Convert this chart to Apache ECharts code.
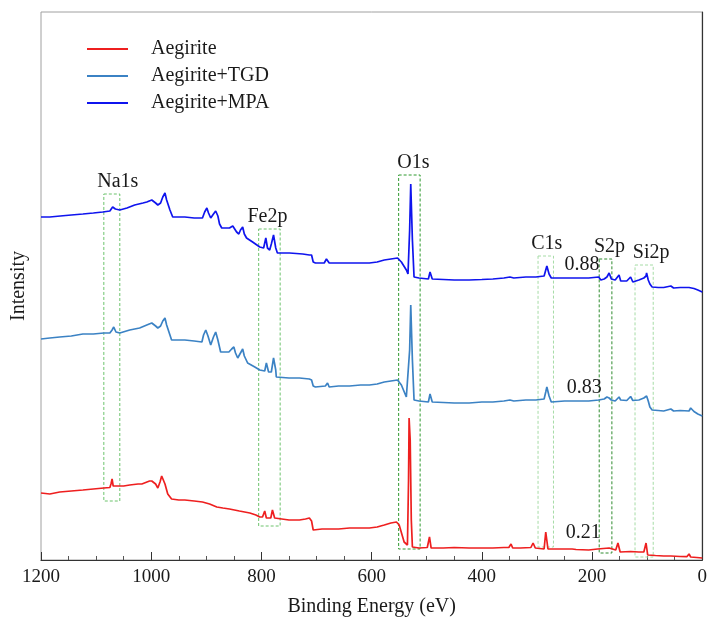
<!DOCTYPE html>
<html>
<head>
<meta charset="utf-8">
<script src="https://cdn.jsdelivr.net/npm/echarts@6/dist/echarts.min.js"></script>
<style>
  html, body { margin: 0; padding: 0; background: #fff; }
  #chart { width: 710px; height: 623px; }
</style>
</head>
<body>
<div id="chart"></div>
<script>
// binding energy (eV) / intensity (a.u., offset per curve)
var seriesNames = ['Aegirite', 'Aegirite+TGD', 'Aegirite+MPA']

var aegiriteData = [
  [1200, 67], [1184, 66], [1166, 68], [1145, 69], [1124, 70], [1105, 71], [1086, 72], [1075, 72.5],
  [1073, 76], [1071, 81], [1069, 74], [1066, 73], [1050, 74], [1039, 75], [1024, 76], [1021, 78],
  [1017, 76], [1003, 79], [999, 79], [992, 76], [988, 72], [984, 78], [981, 84], [979, 86],
  [975, 76], [970, 66], [963, 61], [950, 60], [939, 60], [922, 59], [907, 58], [894, 56],
  [881, 53], [870, 52], [858, 51], [840, 49], [821, 47], [810, 45], [803, 43], [798, 43],
  [794, 49], [791, 42], [783, 42], [780, 50], [776, 42], [773, 40], [750, 40], [731, 40],
  [720, 41], [713, 42], [709, 39], [706, 30], [690, 31], [677, 31], [660, 31], [640, 32],
  [620, 32], [604, 32], [590, 33], [577, 35], [565, 37], [555, 38], [550, 35], [541, 18],
  [535, 15], [533, 80], [532, 142], [530, 120], [528, 40], [526, 13], [514, 12], [499, 12.5],
  [495, 23], [492, 12], [470, 12], [450, 12.5], [423, 12], [400, 12], [380, 12], [360, 12.5],
  [351, 12.5], [347, 16], [344, 12], [330, 12], [311, 12.5], [307, 17], [303, 12], [287, 11],
  [284, 28], [280, 11], [260, 11], [236, 11], [233, 13], [229, 10.5], [206, 10], [190, 11],
  [169, 12], [157, 10], [153, 17], [149, 8], [130, 8.5], [115, 8], [106, 8], [102, 17],
  [99, 5], [85, 4.5], [70, 4], [57, 4], [40, 3.5], [28, 3.3], [24, 6], [21, 3],
  [10, 2.5], [0, 2]
]

var tgdData = [
  [1200, 221], [1184, 222], [1166, 223], [1145, 224], [1124, 226], [1105, 226], [1086, 227], [1075, 227],
  [1071, 230], [1068, 233], [1064, 228], [1057, 227], [1039, 230], [1021, 232], [1008, 235], [999, 237],
  [992, 234], [988, 232], [983, 234], [979, 239], [975, 242], [972, 235], [966, 225], [963, 220],
  [950, 220], [939, 220], [922, 219], [908, 218], [905, 225], [901, 230], [897, 224], [892, 215],
  [887, 223], [883, 228], [879, 220], [874, 208], [866, 208], [859, 208], [854, 211], [850, 213],
  [847, 207], [843, 202], [838, 207], [834, 211], [831, 204], [825, 197], [812, 193], [803, 190],
  [794, 189], [791, 197], [787, 188], [782, 188], [778, 202], [774, 190], [773, 183], [750, 182],
  [731, 182], [713, 181], [709, 180], [706, 174], [702, 173], [684, 174], [680, 177], [677, 173],
  [660, 174], [640, 174], [620, 175], [604, 175], [590, 176], [577, 178], [565, 179], [553, 180],
  [546, 175], [537, 163], [534, 161], [531, 210], [529, 255], [526, 200], [523, 160], [514, 159],
  [497, 158], [494, 166], [490, 158], [470, 157.5], [450, 157], [423, 157], [400, 158], [380, 158],
  [360, 159], [349, 160], [346, 162], [342, 159], [320, 160], [302, 160], [287, 161], [284, 168],
  [282, 173], [278, 164], [274, 158], [250, 159], [230, 159], [206, 159], [188, 160], [178, 161],
  [173, 163], [169, 162], [165, 160], [158, 159], [151, 163], [148, 160], [137, 159.5], [130, 163.5],
  [126, 159.5], [115, 160], [106, 162], [101, 164], [98, 159], [95, 153], [91, 150], [80, 149.5],
  [70, 149], [57, 151], [52, 149], [40, 149.5], [24, 149], [21, 152], [15, 148.5], [8, 146],
  [0, 144]
]

var mpaData = [
  [1200, 343], [1184, 343], [1165, 344], [1145, 345], [1124, 346], [1105, 347], [1088, 348], [1075, 349],
  [1070, 353], [1068, 355], [1065, 351], [1057, 350], [1044, 352], [1030, 355], [1015, 357], [1008, 358],
  [999, 360], [992, 357], [988, 355], [983, 357], [979, 363], [975, 367], [972, 360], [966, 350],
  [961, 343], [950, 343], [939, 343], [922, 342], [907, 342], [903, 348], [899, 352], [896, 347],
  [892, 342], [887, 346], [883, 349], [879, 344], [876, 336], [872, 332], [865, 332], [858, 332],
  [852, 334], [849, 335], [845, 328], [841, 326], [838, 330], [834, 333], [831, 326], [827, 322],
  [816, 318], [803, 313], [796, 312], [792, 322], [789, 312], [785, 310], [782, 316], [778, 325],
  [774, 312], [771, 307], [749, 307], [725, 306], [713, 305], [709, 305], [706, 298], [702, 297],
  [686, 297], [682, 301], [677, 297], [660, 297], [640, 297], [620, 297], [604, 297], [590, 298],
  [577, 300], [565, 301], [553, 302], [546, 298], [537, 290], [534, 286], [531, 330], [529, 376],
  [526, 320], [523, 283], [514, 282], [497, 281], [494, 288], [490, 281], [470, 280.5], [450, 280],
  [423, 280], [400, 280.5], [380, 281], [360, 282], [349, 283], [346, 284], [342, 282], [320, 283],
  [302, 283], [287, 284], [284, 290], [282, 294], [278, 286], [274, 282], [250, 282], [230, 282],
  [206, 282], [188, 283], [184, 280], [178, 281], [173, 283], [169, 287], [165, 281], [158, 280],
  [151, 285], [148, 279], [137, 279], [130, 283], [126, 278], [115, 280], [106, 282], [102, 284],
  [101, 287], [98, 280], [95, 276], [91, 273], [80, 272.5], [70, 272.5], [57, 274], [52, 272],
  [40, 272.5], [24, 272.5], [21, 274], [15, 271.5], [8, 270], [0, 268]
]

// peak windows: [label, high BE, low BE, top, bottom]
var peakBoxes = [
  ['Na1s', 1086, 1057, 366, 59],
  ['Fe2p', 805, 766, 331, 34],
  ['O1s', 551, 512, 385, 11],
  ['C1s', 298, 270, 304, 13],
  ['S2p', 187, 164, 301, 7],
  ['Si2p', 122, 89, 295, 3]
]
var boxColors = ['#6cc36c', '#6cc36c', '#2f9a2f', '#a6dca6', '#2e8b2e', '#a6dca6']
var labelShift = [6, -2, 4, 1, 4, 7]

// ratio labels: [text, BE, intensity]
var ratioLabels = [
  ['0.21', 216, 27],
  ['0.83', 214, 172],
  ['0.88', 218, 295]
]

var serif = 'Liberation Serif'
var colors = ['#ee1f1f', '#3b82c4', '#0f14ee']
var allData = [aegiriteData, tgdData, mpaData]

var chart = echarts.init(document.getElementById('chart'))

var series = seriesNames.map(function(name, i) {
  var r = ratioLabels[i]
  var s = {
    name: name,
    type: 'line',
    data: allData[i],
    symbol: 'none',
    lineStyle: { width: 1.7, color: colors[i] },
    itemStyle: { color: colors[i] },
    z: 3,
    markPoint: {
      symbol: 'rect',
      symbolSize: 1,
      itemStyle: { color: 'transparent' },
      silent: true,
      label: {
        show: true,
        position: 'inside',
        color: '#1a1a1a',
        fontFamily: serif,
        fontSize: 20,
        formatter: function(p) { return p.name }
      },
      data: [{ name: r[0], coord: [r[1], r[2]] }]
    }
  }
  if (i === 0) {
    s.markArea = {
      silent: true,
      data: peakBoxes.map(function(b, k) {
        return [{
          name: b[0],
          coord: [b[1], b[3]],
          itemStyle: {
            color: 'transparent',
            borderColor: boxColors[k],
            borderWidth: 1,
            borderType: [3, 2]
          },
          label: {
            show: true,
            position: 'top',
            distance: 2,
            offset: [labelShift[k], 0],
            color: '#1a1a1a',
            fontFamily: serif,
            fontSize: 20
          }
        }, {
          coord: [b[2], b[4]]
        }]
      })
    }
  }
  return s
})

chart.setOption({
  backgroundColor: '#fff',
  animation: false,
  grid: {
    left: 41,
    right: 7,
    top: 12,
    bottom: 63,
    show: true,
    borderColor: '#a0a0a0',
    borderWidth: 1
  },
  legend: {
    orient: 'vertical',
    left: 82,
    top: 34,
    itemWidth: 41,
    itemHeight: 2,
    itemGap: 7,
    icon: 'rect',
    data: seriesNames,
    textStyle: {
      fontFamily: serif,
      fontSize: 20,
      color: '#1a1a1a',
      lineHeight: 20,
      padding: [0, 0, 0, 18]
    }
  },
  xAxis: {
    type: 'value',
    min: 0,
    max: 1200,
    interval: 200,
    inverse: true,
    name: 'Binding Energy (eV)',
    nameLocation: 'middle',
    nameGap: 37,
    nameTextStyle: { fontFamily: serif, fontSize: 20, color: '#1a1a1a' },
    axisLine: { lineStyle: { color: '#333', width: 1.2 } },
    axisTick: { inside: true, length: 8, lineStyle: { color: '#333' } },
    minorTick: { show: true, splitNumber: 4, length: 4, lineStyle: { color: '#555' } },
    axisLabel: {
      fontFamily: serif,
      fontSize: 19,
      color: '#1a1a1a',
      margin: 8,
      formatter: function(v) { return String(v) }
    },
    splitLine: { show: false }
  },
  yAxis: {
    type: 'value',
    min: 0,
    max: 548,
    name: 'Intensity',
    nameLocation: 'middle',
    nameGap: 12,
    nameTextStyle: { fontFamily: serif, fontSize: 20, color: '#1a1a1a' },
    axisLine: { show: true, lineStyle: { color: '#333', width: 1.2 } },
    axisTick: { show: false },
    axisLabel: { show: false },
    splitLine: { show: false }
  },
  series: series
})
</script>
</body>
</html>
